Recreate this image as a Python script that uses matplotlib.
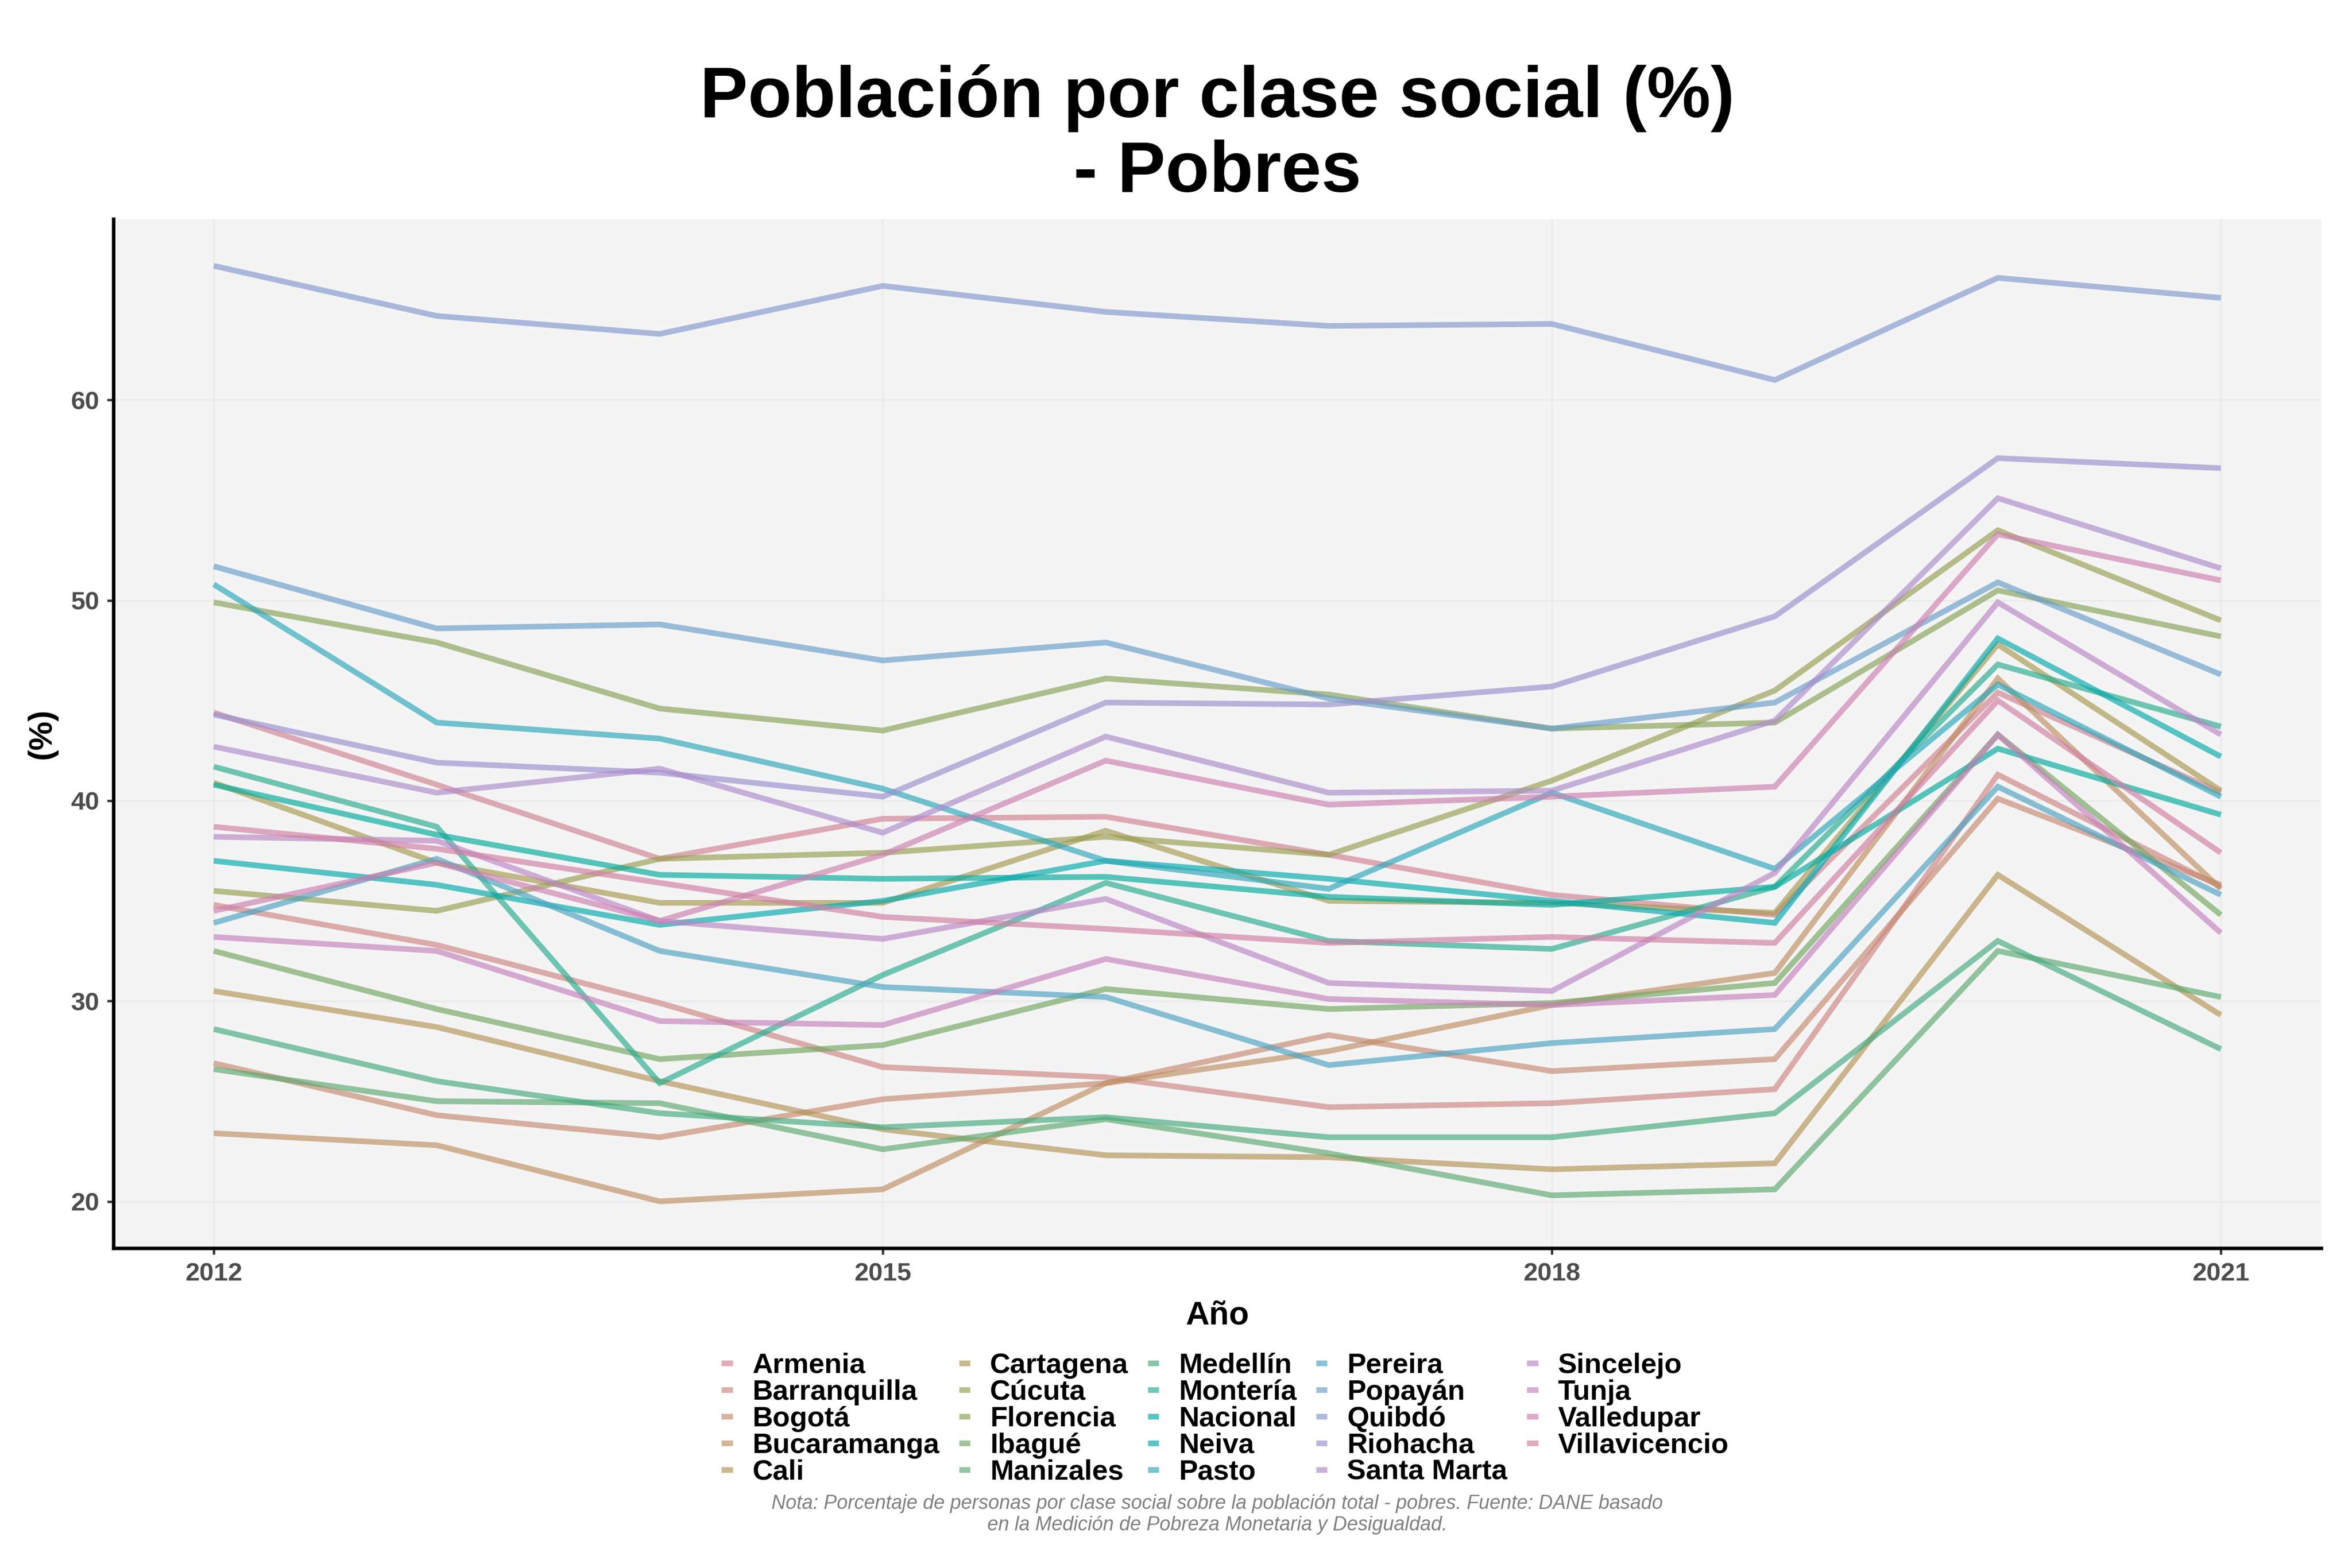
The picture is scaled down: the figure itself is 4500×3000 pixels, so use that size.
import math
import matplotlib
matplotlib.use("Agg")
import matplotlib.pyplot as plt
from matplotlib.lines import Line2D

# ---------------- data ----------------
years = [2012, 2013, 2014, 2015, 2016, 2017, 2018, 2019, 2020, 2021]

cities = ["Armenia", "Barranquilla", "Bogotá", "Bucaramanga", "Cali",
          "Cartagena", "Cúcuta", "Florencia", "Ibagué", "Manizales",
          "Medellín", "Montería", "Nacional", "Neiva", "Pasto",
          "Pereira", "Popayán", "Quibdó", "Riohacha", "Santa Marta",
          "Sincelejo", "Tunja", "Valledupar", "Villavicencio"]

armenia = [44.4, 40.8, 37.1, 39.1, 39.2, 37.3, 35.3, 34.3, 45.4, 40.4]
barranquilla = [34.8, 32.8, 29.9, 26.7, 26.2, 24.7, 24.9, 25.6, 41.3, 35.7]
bogota = [26.9, 24.3, 23.2, 25.1, 25.9, 28.3, 26.5, 27.1, 40.1, 35.8]
bucaramanga = [23.4, 22.8, 20.0, 20.6, 25.9, 27.5, 29.8, 31.4, 46.1, 35.6]
cali = [30.5, 28.7, 26.0, 23.6, 22.3, 22.2, 21.6, 21.9, 36.3, 29.3]
cartagena = [40.9, 36.9, 34.9, 34.9, 38.5, 35.0, 34.9, 34.4, 47.8, 40.5]
cucuta = [35.5, 34.5, 37.1, 37.4, 38.2, 37.3, 41.0, 45.5, 53.5, 49.0]
florencia = [49.9, 47.9, 44.6, 43.5, 46.1, 45.3, 43.6, 43.9, 50.5, 48.2]
ibague = [32.5, 29.6, 27.1, 27.8, 30.6, 29.6, 29.9, 30.9, 43.3, 34.3]
manizales = [26.6, 25.0, 24.9, 22.6, 24.1, 22.4, 20.3, 20.6, 32.5, 30.2]
medellin = [28.6, 26.0, 24.4, 23.7, 24.2, 23.2, 23.2, 24.4, 33.0, 27.6]
monteria = [41.7, 38.7, 25.9, 31.3, 35.9, 33.0, 32.6, 35.7, 46.8, 43.7]
nacional = [40.8, 38.3, 36.3, 36.1, 36.2, 35.2, 34.8, 35.7, 42.6, 39.3]
neiva = [37.0, 35.8, 33.8, 35.0, 37.0, 36.1, 35.0, 33.9, 48.1, 42.2]
pasto = [50.8, 43.9, 43.1, 40.6, 37.0, 35.6, 40.4, 36.6, 45.8, 40.2]
pereira = [33.9, 37.1, 32.5, 30.7, 30.2, 26.8, 27.9, 28.6, 40.7, 35.3]
popayan = [51.7, 48.6, 48.8, 47.0, 47.9, 45.1, 43.6, 44.9, 50.9, 46.3]
quibdo = [66.7, 64.2, 63.3, 65.7, 64.4, 63.7, 63.8, 61.0, 66.1, 65.1]
riohacha = [44.3, 41.9, 41.4, 40.2, 44.9, 44.8, 45.7, 49.2, 57.1, 56.6]
santa_marta = [42.7, 40.4, 41.6, 38.4, 43.2, 40.4, 40.5, 44.0, 55.1, 51.6]
sincelejo = [38.2, 38.0, 34.0, 33.1, 35.1, 30.9, 30.5, 36.4, 49.9, 43.3]
tunja = [33.2, 32.5, 29.0, 28.8, 32.1, 30.1, 29.8, 30.3, 43.3, 33.4]
valledupar = [34.5, 36.9, 34.0, 37.3, 42.0, 39.8, 40.2, 40.7, 53.3, 51.0]
villavicencio = [38.7, 37.6, 35.9, 34.2, 33.6, 32.9, 33.2, 32.9, 45.0, 37.4]

series = [armenia, barranquilla, bogota, bucaramanga, cali, cartagena,
          cucuta, florencia, ibague, manizales, medellin, monteria,
          nacional, neiva, pasto, pereira, popayan, quibdo, riohacha,
          santa_marta, sincelejo, tunja, valledupar, villavicencio]

x_ticks = [2012, 2015, 2018, 2021]
y_ticks = [20, 30, 40, 50, 60]

title_lines = ["Población por clase social (%)", "- Pobres"]
x_label = "Año"
y_label = "(%)"
caption = ("Nota: Porcentaje de personas por clase social sobre la población total - pobres. Fuente: DANE basado\n"
           "en la Medición de Pobreza Monetaria y Desigualdad.")


# ---------------- colours (HCL hue wheel) ----------------
def hcl(h, c, l):
    Xn, Yn, Zn = 95.047, 100.0, 108.883
    un = 4 * Xn / (Xn + 15 * Yn + 3 * Zn)
    vn = 9 * Yn / (Xn + 15 * Yn + 3 * Zn)
    hr = math.radians(h)
    u, v = c * math.cos(hr), c * math.sin(hr)
    Y = Yn * ((l + 16) / 116) ** 3
    up = u / (13 * l) + un
    vp = v / (13 * l) + vn
    X = Y * 9 * up / (4 * vp)
    Z = Y * (12 - 3 * up - 20 * vp) / (4 * vp)
    X, Y, Z = X / 100, Y / 100, Z / 100
    r = 3.2404542 * X - 1.5371385 * Y - 0.4985314 * Z
    g = -0.9692660 * X + 1.8760108 * Y + 0.0415560 * Z
    b = 0.0556434 * X - 0.2040259 * Y + 1.0572252 * Z

    def gam(t):
        t = 1.055 * t ** (1 / 2.4) - 0.055 if t > 0.0031308 else 12.92 * t
        return min(max(t, 0.0), 1.0)
    return (gam(r), gam(g), gam(b))


n = len(cities)
colors = [hcl(360 * i / n, 50, 63) for i in range(n)]
ALPHA = 0.66

plt.rcParams['font.family'] = ['Liberation Sans', 'DejaVu Sans']

fig = plt.figure(figsize=(15, 10), dpi=300)
fig.patch.set_facecolor('white')
ax = fig.add_axes([0.0482, 0.204, 0.9387, 0.6563])
ax.set_facecolor('#f4f4f4')

for name, vals, col in zip(cities, series, colors):
    ax.plot(years, vals, color=col, alpha=ALPHA, lw=2.6, label=name,
            solid_joinstyle='miter', solid_capstyle='butt', zorder=3)

allv = [v for s in series for v in s]
lo, hi = min(allv), max(allv)
pad = 0.05 * (hi - lo)
ax.set_ylim(lo - pad, hi + pad)
ax.set_xlim(years[0] - 0.05 * (years[-1] - years[0]), years[-1] + 0.05 * (years[-1] - years[0]))
ax.set_xticks(x_ticks)
ax.set_yticks(y_ticks)
ax.grid(True, color='#ebebeb', lw=0.8, zorder=0)
ax.set_axisbelow(True)

for s in ['top', 'right']:
    ax.spines[s].set_visible(False)
for s in ['left', 'bottom']:
    ax.spines[s].set_color('black')
    ax.spines[s].set_linewidth(1.6)

ax.tick_params(axis='both', length=2.9, width=1.1, color='#333333',
               labelsize=11.8, labelcolor='#4d4d4d', pad=3.5)
for lab in ax.get_xticklabels() + ax.get_yticklabels():
    lab.set_fontweight('bold')

ax.set_xlabel(x_label, fontsize=15, fontweight='bold', color='black')
ax.xaxis.set_label_coords(0.5, -0.0655)
ax.xaxis.label.set_va('center')
ax.set_ylabel(y_label, fontsize=15, fontweight='bold', color='black')
ax.yaxis.set_label_coords(-0.0324, 0.5)
ax.yaxis.label.set_va('center')

cx = 0.5176
fig.text(cx, 0.9253, title_lines[0], ha='center', va='baseline',
         fontsize=33, fontweight='bold')
fig.text(cx, 0.8777, title_lines[1], ha='center', va='baseline',
         fontsize=33, fontweight='bold')

handles = [Line2D([0], [0], color=c, alpha=ALPHA, lw=2.6, solid_capstyle='butt')
           for c in colors]
leg = fig.legend(handles, cities, ncol=5, loc='upper left',
                 bbox_to_anchor=(0.3067, 0.1375), frameon=False,
                 prop={'size': 13, 'weight': 'bold'},
                 handlelength=0.4, handletextpad=0.7, columnspacing=0.68,
                 labelspacing=0.02, borderpad=0, borderaxespad=0)

fig.text(cx, 0.0342, caption, ha='center', va='center', fontsize=9.0,
         style='italic', color='#808080', linespacing=1.2)

fig.savefig('out.png', dpi=300, facecolor='white')
